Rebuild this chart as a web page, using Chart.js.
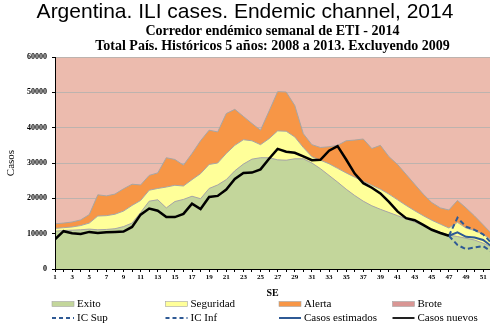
<!DOCTYPE html>
<html>
<head>
<meta charset="utf-8">
<script src="https://cdn.jsdelivr.net/npm/chart.js@4.4.0/dist/chart.umd.min.js"></script>
<style>
  html, body { margin: 0; padding: 0; background: #fff; }
  #wrap { width: 490px; height: 330px; }
</style>
</head>
<body>
<div id="wrap"><canvas id="corredor" width="490" height="330"></canvas></div>
<script>
// semanas epidemiológicas
const semanas = [1, 2, 3, 4, 5, 6, 7, 8, 9, 10, 11, 12, 13, 14, 15, 16, 17, 18, 19, 20,
  21, 22, 23, 24, 25, 26, 27, 28, 29, 30, 31, 32, 33, 34, 35, 36, 37, 38, 39, 40,
  41, 42, 43, 44, 45, 46, 47, 48, 49, 50, 51, 52];
const semanasProyeccion = [47, 48, 49, 50, 51, 52];

// límites superiores de cada zona del corredor
const exito = [10700, 10900, 11000, 11100, 11300, 11100, 11200, 11400, 12000, 13000,
  16000, 19200, 19600, 17300, 19100, 19700, 20600, 19900, 22800, 23800,
  25300, 27800, 29700, 31100, 31500, 31500, 30900, 30800, 31200, 31200,
  30000, 28400, 26500, 24600, 22600, 20800, 19200, 17900, 16900, 16000,
  15100, 14200, 13300, 12300, 11300, 10400, 9600, 9200, 8700, 8200, 7300, 6200];
const seguridad = [11500, 11700, 11900, 12300, 13000, 15000, 15100, 15500, 16400, 18000,
  19400, 22300, 22800, 23200, 23700, 23500, 25300, 27000, 29600, 30000,
  32700, 35000, 36600, 36300, 35200, 36900, 39100, 39000, 37400, 34400,
  31800, 30800, 29800, 28500, 27200, 26000, 24800, 23700, 22600, 21200,
  19600, 18000, 16500, 15100, 13800, 12700, 11600, 13200, 11600, 10900, 9800, 8200];
const alerta = [12800, 13000, 13300, 13900, 15400, 21000, 20700, 21200, 22700, 24000,
  23800, 26500, 27200, 31500, 31000, 29400, 32700, 36300, 39300, 38800,
  44000, 45200, 43200, 41200, 39300, 44700, 50200, 50100, 46300, 38300,
  35200, 34400, 34600, 35000, 36300, 36500, 36800, 34100, 35000, 31800,
  29600, 26800, 24000, 21200, 18800, 17300, 16700, 19400, 17300, 15000, 12500, 10000];

// casos notificados 2014 (SE 1 a 47)
const casosNuevos = [8400, 10700, 10100, 9900, 10500, 10200, 10400, 10500, 10600, 11900,
  15400, 17100, 16500, 14700, 14700, 15600, 18500, 17000, 20400, 20700,
  22500, 25500, 27200, 27300, 28200, 31200, 34000, 33200, 32900, 31900,
  30800, 30900, 33500, 34800, 31000, 27000, 24300, 23000, 21400, 19000,
  16300, 14400, 13800, 12500, 11100, 10200, 9400];

// estimación de casos y su intervalo de confianza
const casosEstimados = [9400, 10400, 9100, 8900, 8200, 6400];
const icSup = [9400, 14500, 12000, 11100, 9800, 7300];
const icInf = [9400, 6800, 5600, 6100, 6500, 4900];

const yTicks = [0, 10000, 20000, 30000, 40000, 50000, 60000];

const colores = {
  exito: "#C3D69B",
  seguridad: "#FFFF99",
  alerta: "#F79646",
  brote: "#ECBBAE",
  broteLeyenda: "#D99694",
  azul: "#2F5A95",
  borde: "#A6A6A6",
};

const serif = "'Liberation Serif', 'Times New Roman', serif";

const puntos = (xs, ys) => xs.slice(0, ys.length).map((x, i) => ({ x: x, y: ys[i] }));

// zona de brote: fondo del área de trazado
const fondoBrote = {
  id: "fondoBrote",
  beforeDraw(chart) {
    const { ctx, chartArea: a } = chart;
    ctx.save();
    ctx.fillStyle = colores.brote;
    ctx.fillRect(a.left, a.top, a.right - a.left, a.bottom - a.top);
    ctx.restore();
  },
};

// ejes por encima de las áreas rellenas
const ejes = {
  id: "ejes",
  afterDatasetsDraw(chart) {
    const { ctx, chartArea: a } = chart;
    ctx.save();
    ctx.strokeStyle = "#000";
    ctx.lineWidth = 1;
    ctx.beginPath();
    ctx.moveTo(a.left + 0.5, a.top);
    ctx.lineTo(a.left + 0.5, a.bottom + 0.5);
    ctx.lineTo(a.right, a.bottom + 0.5);
    ctx.stroke();
    ctx.restore();
  },
};

// leyenda en cuatro columnas
const leyenda = {
  id: "leyenda",
  afterDraw(chart) {
    const ctx = chart.ctx;
    const cols = [52, 165.5, 279, 392.5];
    const filas = [304, 318];
    const items = [
      { t: "Exito", tipo: "area", c: colores.exito },
      { t: "Seguridad", tipo: "area", c: colores.seguridad },
      { t: "Alerta", tipo: "area", c: colores.alerta },
      { t: "Brote", tipo: "area", c: colores.broteLeyenda },
      { t: "IC Sup", tipo: "dash", c: colores.azul },
      { t: "IC Inf", tipo: "dash", c: colores.azul },
      { t: "Casos estimados", tipo: "linea", c: colores.azul },
      { t: "Casos nuevos", tipo: "linea", c: "#222" },
    ];
    ctx.save();
    ctx.font = "11px " + serif;
    ctx.textBaseline = "middle";
    ctx.fillStyle = "#000";
    items.forEach((it, i) => {
      const x = cols[i % 4];
      const y = filas[Math.floor(i / 4)];
      if (it.tipo === "area") {
        ctx.fillStyle = it.c;
        ctx.fillRect(x, y - 2.5, 22, 5);
        ctx.strokeStyle = colores.borde;
        ctx.lineWidth = 0.6;
        ctx.strokeRect(x, y - 2.5, 22, 5);
      } else {
        ctx.strokeStyle = it.c;
        ctx.lineWidth = 2;
        ctx.setLineDash(it.tipo === "dash" ? [4, 3] : []);
        ctx.beginPath();
        ctx.moveTo(x, y);
        ctx.lineTo(x + 22, y);
        ctx.stroke();
        ctx.setLineDash([]);
      }
      ctx.fillStyle = "#000";
      ctx.fillText(it.t, x + 25, y + 0.5);
    });
    ctx.restore();
  },
};

const ctx = document.getElementById("corredor").getContext("2d");
const corredor = new Chart(ctx, {
  type: "line",
  data: {
    datasets: [
      {
        label: "Exito",
        data: puntos(semanas, exito),
        fill: "origin",
        backgroundColor: colores.exito,
        borderColor: colores.borde,
        borderWidth: 1,
        order: 3,
      },
      {
        label: "Seguridad",
        data: puntos(semanas, seguridad),
        fill: 0,
        backgroundColor: colores.seguridad,
        borderColor: colores.borde,
        borderWidth: 1,
        order: 3,
      },
      {
        label: "Alerta",
        data: puntos(semanas, alerta),
        fill: 1,
        backgroundColor: colores.alerta,
        borderColor: colores.borde,
        borderWidth: 1,
        order: 3,
      },
      {
        label: "IC Sup",
        data: puntos(semanasProyeccion, icSup),
        borderColor: colores.azul,
        borderWidth: 2,
        borderDash: [5, 3],
        fill: false,
        order: 1,
      },
      {
        label: "IC Inf",
        data: puntos(semanasProyeccion, icInf),
        borderColor: colores.azul,
        borderWidth: 2,
        borderDash: [5, 3],
        fill: false,
        order: 1,
      },
      {
        label: "Casos estimados",
        data: puntos(semanasProyeccion, casosEstimados),
        borderColor: colores.azul,
        borderWidth: 2,
        fill: false,
        order: 1,
      },
      {
        label: "Casos nuevos",
        data: puntos(semanas, casosNuevos),
        borderColor: "#000",
        borderWidth: 2.5,
        fill: false,
        order: 0,
      },
    ],
  },
  options: {
    responsive: false,
    animation: false,
    elements: {
      point: { radius: 0 },
      line: { tension: 0 },
    },
    layout: { padding: { left: 0, right: 0, top: 0, bottom: 31 } },
    plugins: {
      legend: { display: false },
      tooltip: { enabled: false },
      title: {
        display: true,
        text: "Argentina. ILI cases. Endemic channel, 2014",
        color: "#000",
        font: { family: "'Liberation Sans', Arial, sans-serif", size: 21, weight: "normal", lineHeight: 1.1 },
        padding: { top: 1, bottom: 0 },
      },
      subtitle: {
        display: true,
        fullSize: false,
        text: [
          "Corredor endémico semanal de ETI - 2014",
          "Total País. Históricos 5 años: 2008 a 2013. Excluyendo 2009",
        ],
        color: "#000",
        font: { family: serif, size: 14, weight: "bold", lineHeight: 1.07 },
        padding: { top: 0, bottom: 3 },
      },
    },
    scales: {
      x: {
        type: "linear",
        min: 1,
        max: 51.8,
        afterFit(s) { s.height = 30; },
        ticks: {
          stepSize: 1,
          autoSkip: false,
          maxRotation: 0,
          includeBounds: false,
          padding: 1,
          color: "#000",
          font: { family: serif, size: 7, weight: "bold" },
          callback: (v) => (v % 2 === 1 ? String(v) : ""),
        },
        grid: { drawOnChartArea: false, tickLength: 3, tickColor: "#000" },
        border: { color: "#000" },
        title: {
          display: true,
          text: "SE",
          color: "#000",
          font: { family: serif, size: 10, weight: "bold" },
          padding: { top: 0, bottom: 0 },
        },
      },
      y: {
        min: 0,
        max: 60000,
        afterFit(s) { s.width = 55; },
        afterBuildTicks(s) { s.ticks = yTicks.map((v) => ({ value: v })); },
        ticks: {
          padding: 5,
          color: "#000",
          font: { family: serif, size: 8, weight: "bold" },
          callback: (v) => String(v),
        },
        grid: { color: "#BDB3AE", tickLength: 3, tickColor: "#000" },
        border: { color: "#000" },
        title: {
          display: true,
          text: "Casos",
          color: "#000",
          font: { family: serif, size: 11, weight: "normal" },
          padding: { top: 5, bottom: 0 },
        },
      },
    },
  },
  plugins: [fondoBrote, ejes, leyenda],
});
</script>
</body>
</html>
